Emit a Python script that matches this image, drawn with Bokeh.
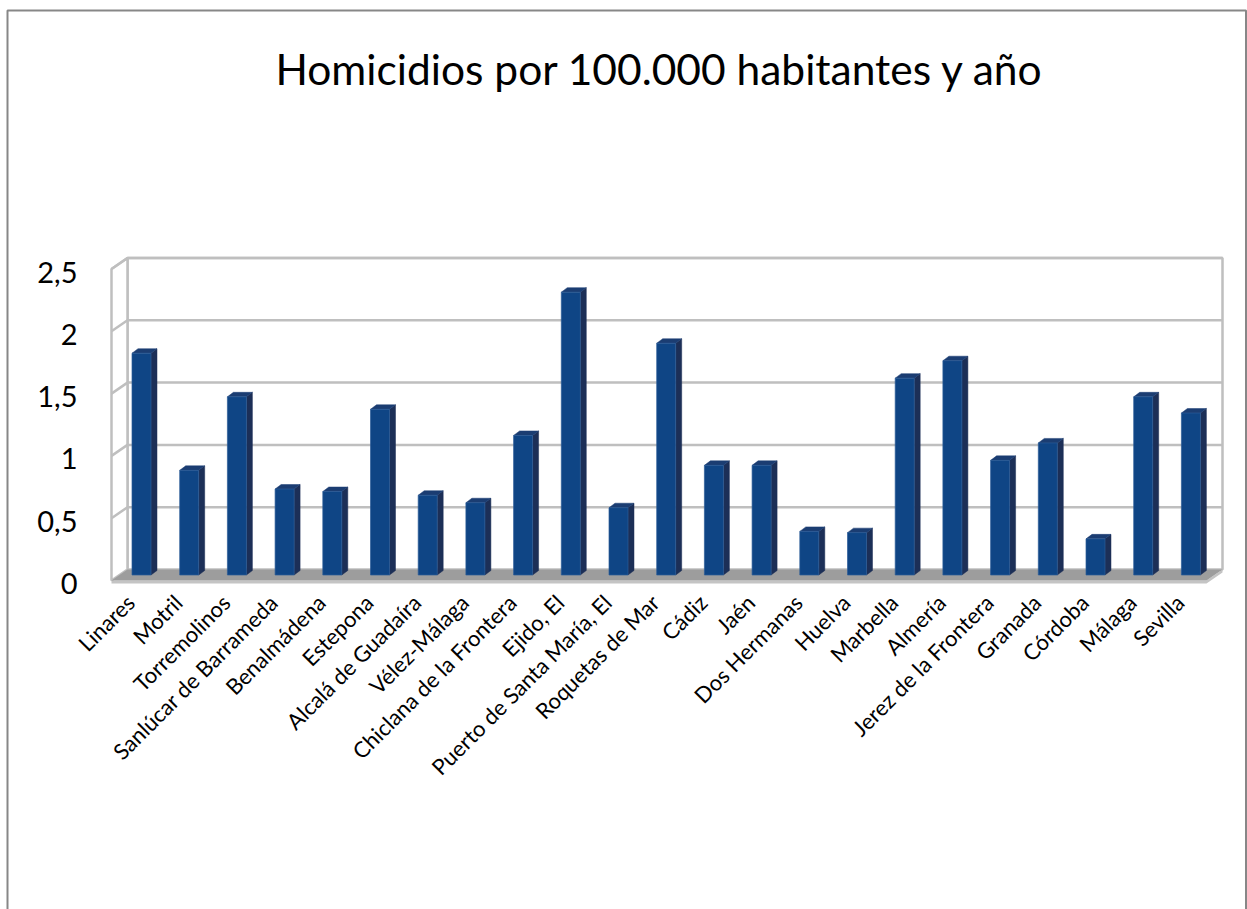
import numpy as np
from bokeh.plotting import figure
from bokeh.models import Range1d, ColumnDataSource
from bokeh.core.properties import value
from bokeh.embed import file_html
from bokeh.resources import INLINE

# ---------------- data ----------------
title = "Homicidios por 100.000 habitantes y año"
cities = ["Linares", "Motril", "Torremolinos", "Sanlúcar de Barrameda", "Benalmádena",
          "Estepona", "Alcalá de Guadaíra", "Vélez-Málaga", "Chiclana de la Frontera",
          "Ejido, El", "Puerto de Santa María, El", "Roquetas de Mar", "Cádiz", "Jaén",
          "Dos Hermanas", "Huelva", "Marbella", "Almería", "Jerez de la Frontera",
          "Granada", "Córdoba", "Málaga", "Sevilla"]
rates = [1.78, 0.84, 1.43, 0.69, 0.67, 1.33, 0.64, 0.58, 1.12, 2.27, 0.54, 1.86,
         0.88, 0.88, 0.35, 0.34, 1.58, 1.72, 0.92, 1.06, 0.29, 1.43, 1.30]
y_ticks = [0, 0.5, 1, 1.5, 2, 2.5]
y_tick_labels = ["0", "0,5", "1", "1,5", "2", "2,5"]

# ---------------- layout helpers ----------------
W, H = 1247, 909
X0, SX = 141.0, 47.7      # px of first category, px per category
Y0, SY = 580.0, 124.6     # px of value 0 (front plane), px per unit


def dx(px):
    return (px - X0) / SX


def dy(py):
    return (Y0 - py) / SY


n = len(cities)
idx = np.arange(n, dtype=float)
vals = np.array(rates, dtype=float)

DX = 16 / SX          # depth offset (x)
DY = 11 / SY          # depth offset (y)
XL = dx(111)          # front-left corner
XRB = dx(1222)        # back-right corner
XRF = XRB - DX        # front-right corner
YMAX = y_ticks[-1]

p = figure(width=W, height=H, x_range=Range1d(dx(0), dx(W)), y_range=Range1d(dy(H), dy(0)),
           output_backend="svg", toolbar_location=None, title=None,
           x_axis_type=None, y_axis_type=None, min_border=0,
           min_border_left=0, min_border_right=0, min_border_top=0, min_border_bottom=0)
p.outline_line_color = None
p.background_fill_color = "white"
p.border_fill_color = "white"

GRID = "#bfbfbf"
# back wall
p.patch([XL + DX, XRB, XRB, XL + DX], [DY, DY, YMAX + DY, YMAX + DY],
        fill_color="white", line_color=GRID, line_width=2.5)
# left wall
p.patch([XL, XL, XL + DX, XL + DX], [0, YMAX, YMAX + DY, DY],
        fill_color="white", line_color=GRID, line_width=2.5)
# gridlines (back wall + left wall)
gx, gy = [], []
for t in y_ticks[1:]:
    gx.append([XL, XL + DX, XRB])
    gy.append([t, t + DY, t + DY])
p.multi_line(gx, gy, line_color=GRID, line_width=2.5)

# floor
T = 3 / SY
p.patch([XL, XRF, XRB, XRB, XRF, XL], [0, 0, DY, DY - T, -T, -T],
        fill_color="#c4c4c4", line_color=None)
p.patch([XL, XRF, XRB, XL + DX], [0, 0, DY, DY], fill_color="#9d9d9d", line_color=None)

# bars (3D)
HW = 9.5 / SX
BDX = 6 / SX
BDY = 4.5 / SY
base = DY / 2
tops = vals + base
front_xs = [[i - HW, i + HW, i + HW, i - HW] for i in idx]
front_ys = [[base, base, t, t] for t in tops]
side_xs = [[i + HW, i + HW + BDX, i + HW + BDX, i + HW] for i in idx]
side_ys = [[base, base + BDY, t + BDY, t] for t in tops]
top_xs = [[i - HW, i + HW, i + HW + BDX, i - HW + BDX] for i in idx]
top_ys = [[t, t, t + BDY, t + BDY] for t in tops]
p.patches(side_xs, side_ys, fill_color="#1c2f57", line_color="#1c2f57", line_width=0.5)
p.patches(top_xs, top_ys, fill_color="#1b3d72", line_color="#1b3d72", line_width=0.5)
p.patches(front_xs, front_ys, fill_color="#0f4585", line_color="#2c5c98", line_width=0.7)

FONT = value("Lato")
# y tick labels
ysrc = ColumnDataSource(dict(x=[dx(77)] * len(y_ticks),
                             y=[t - 3 / SY for t in y_ticks], text=y_tick_labels))
p.text(x="x", y="y", text="text", source=ysrc, text_font=FONT, text_font_size="29px",
       text_align="right", text_baseline="middle", text_color="#000000")

# category labels
csrc = ColumnDataSource(dict(x=idx - 11 / SX, y=np.full(n, dy(598)), text=cities))
p.text(x="x", y="y", text="text", source=csrc, angle=np.pi / 4, text_font=FONT,
       text_font_size="22px", text_align="right", text_baseline="middle", text_color="#000000")

# title
tsrc = ColumnDataSource(dict(x=[dx(659.5)], y=[dy(68)], text=[title]))
p.text(x="x", y="y", text="text", source=tsrc, text_font=FONT, text_font_size="42.5px",
       text_align="center", text_baseline="alphabetic", text_color="#000000")

# outer chart border
p.line([dx(7), dx(7), dx(1245.5), dx(1245.5)], [dy(H + 5), dy(10), dy(10), dy(H + 5)],
       line_color="#878787", line_width=2)

open("out.html", "w").write(file_html(p, INLINE))
